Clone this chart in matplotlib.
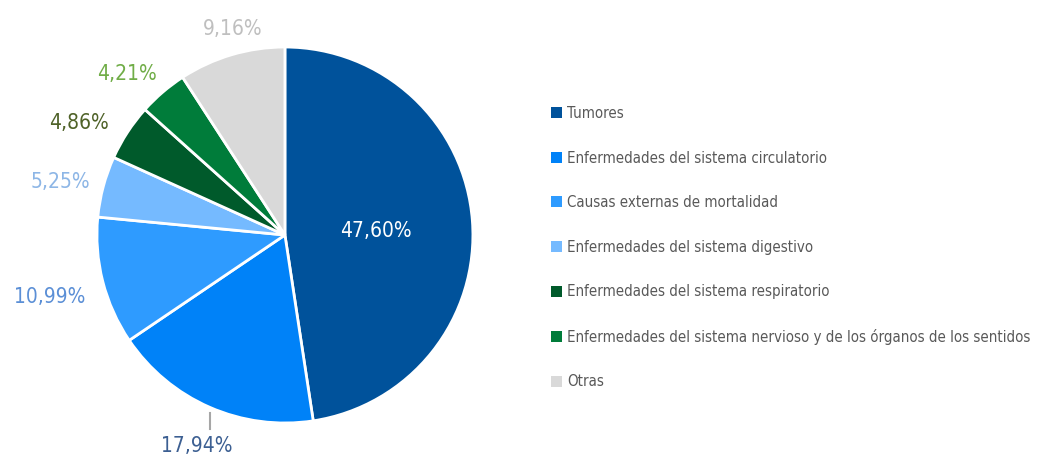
import numpy as np
import matplotlib.pyplot as plt
from matplotlib.patches import Patch
from matplotlib import font_manager
from matplotlib.font_manager import FontProperties

causas = [
    "Tumores",
    "Enfermedades del sistema circulatorio",
    "Causas externas de mortalidad",
    "Enfermedades del sistema digestivo",
    "Enfermedades del sistema respiratorio",
    "Enfermedades del sistema nervioso y de los órganos de los sentidos",
    "Otras",
]
porcentajes = [47.60, 17.94, 10.99, 5.25, 4.86, 4.21, 9.16]

colores = ["#00529B", "#0082F8", "#2E9BFF", "#75BAFF", "#005A2B", "#007C3A", "#D9D9D9"]
colores_texto = ["#FFFFFF", "#3C5F92", "#5B8FD6", "#8DB6E6", "#4F6228", "#70AD47", "#BFBFBF"]
# label placement: distance in pie radii and small angle nudge (deg)
dist = [0.485, 1.213, 1.291, 1.231, 1.25, 1.204, 1.135]
nudge = [-1.1, 0.75, 0.2, 1.45, 4.4, 3.8, -2.4]

# look for a narrow font, the original uses a condensed face
narrow = None
for f in font_manager.fontManager.ttflist:
    fn = f.fname.lower()
    if ("condensed" in fn or "narrow" in fn) and "bold" not in fn and "oblique" not in fn \
            and "italic" not in fn and "mono" not in fn and f.weight in (400, "normal"):
        narrow = f.fname
        break

if narrow:
    fp_lab = FontProperties(fname=narrow, size=15)
    fp_leg = FontProperties(fname=narrow, size=10.8)
else:
    fp_lab = FontProperties(family="Roboto", size=15)
    fp_leg = FontProperties(family="Roboto", size=10)

fig = plt.figure(figsize=(10.38, 4.59), dpi=100)
ax = fig.add_axes([0.0934, 0.0784, 0.3622, 0.8192])

wedges, _ = ax.pie(porcentajes, colors=colores, startangle=90, counterclock=False,
                   wedgeprops=dict(edgecolor="white", linewidth=2))
ax.set_xlim(-1, 1)
ax.set_ylim(-1, 1)
ax.set_aspect("equal")
ax.axis("off")

for w, p, c, d, n in zip(wedges, porcentajes, colores_texto, dist, nudge):
    ang = np.deg2rad((w.theta1 + w.theta2) / 2 + n)
    x, y = d * np.cos(ang), d * np.sin(ang) - 0.006
    txt = f"{p:.2f}%".replace(".", ",")
    ax.text(x, y, txt, ha="center", va="center", fontproperties=fp_lab, color=c, clip_on=False)

# leader line for the circulatorio label
w = wedges[1]
ang = np.deg2rad((w.theta1 + w.theta2) / 2)
xl = np.cos(ang)
ax.plot([xl, xl], [np.sin(ang) - 0.03, np.sin(ang) - 0.115], color="#A6A6A6",
        linewidth=1.5, clip_on=False)

handles = [Patch(facecolor=c, edgecolor="none") for c in colores]
leg = fig.legend(handles, causas, loc="upper left", bbox_to_anchor=(0.525, 0.782),
                 frameon=False, prop=fp_leg, handlelength=0.75, handleheight=0.75,
                 handletextpad=0.35, labelspacing=1.97, borderaxespad=0)
for t in leg.get_texts():
    t.set_color("#595959")

fig.savefig("out.png", dpi=100)
